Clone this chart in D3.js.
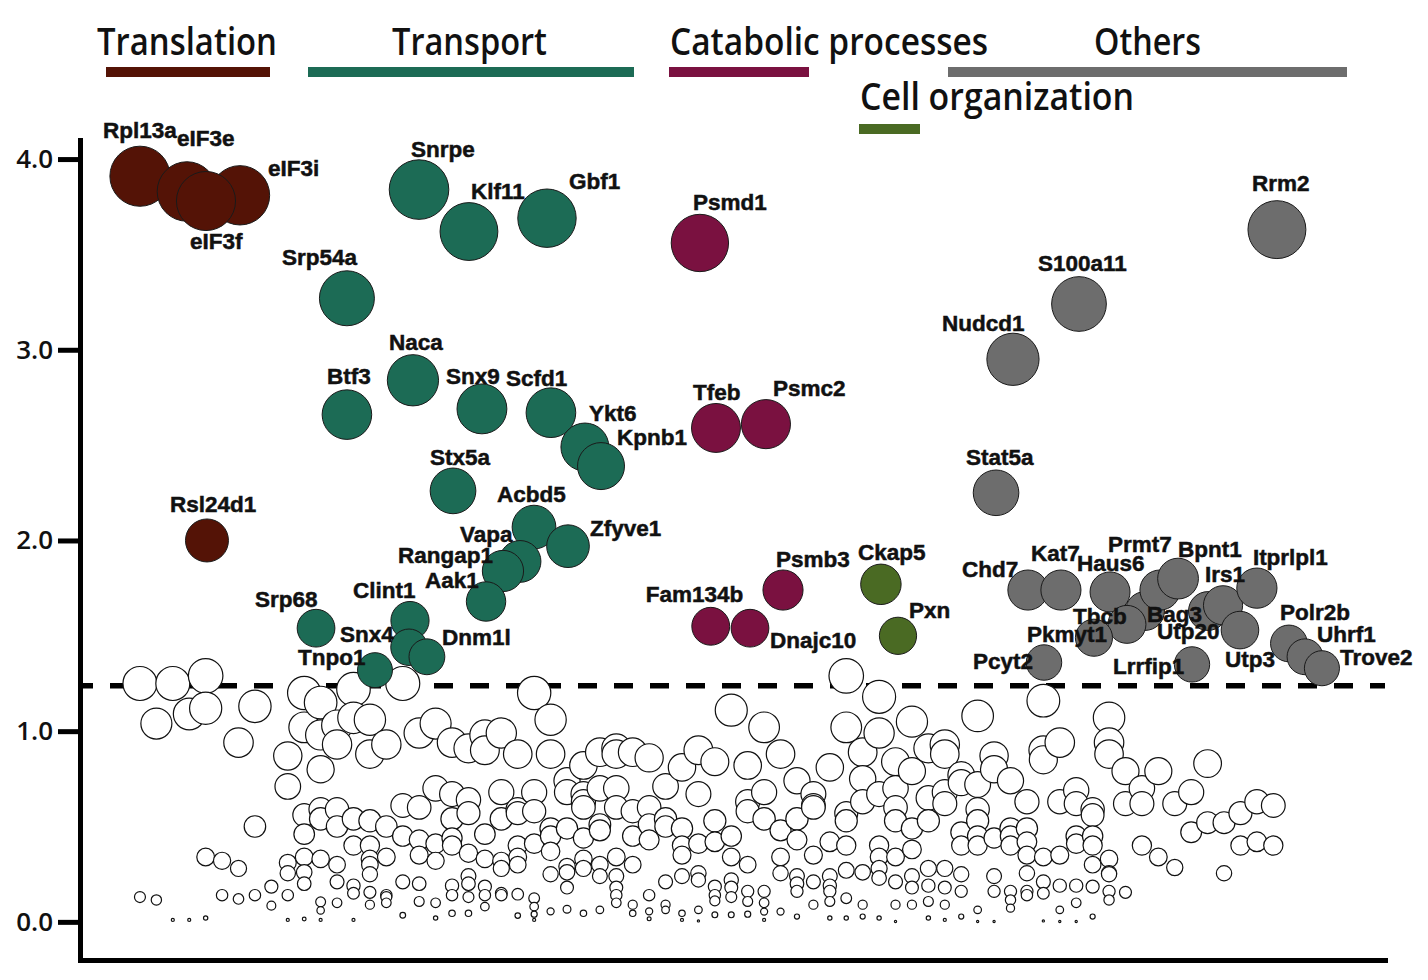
<!DOCTYPE html>
<html>
<head>
<meta charset="utf-8">
<script src="https://cdn.jsdelivr.net/npm/d3@7"></script>
<style>
  body { margin: 0; background: #fff; }
  svg { display: block; }
</style>
</head>
<body>
<div id="chart"></div>
<script>
// ---- data ----
var categories = ["Translation", "Transport", "Catabolic processes", "Cell organization", "Others"];
var categoryColors = ["#541306", "#1c6b55", "#7a1140", "#4a6a23", "#6d6d6d"];

// highlighted genes (drawing order), category index, x position (rank), y value
var genes = ["Rpl13a", "eIF3i", "eIF3e", "eIF3f", "Rsl24d1",
  "Snrpe", "Klf11", "Gbf1", "Srp54a", "Naca", "Btf3", "Snx9", "Scfd1", "Ykt6", "Kpnb1",
  "Stx5a", "Acbd5", "Zfyve1", "Vapa", "Rangap1", "Aak1", "Srp68", "Clint1", "Snx4", "Dnm1l", "Tnpo1",
  "Psmd1", "Tfeb", "Psmc2", "Psmb3", "Fam134b", "Dnajc10",
  "Ckap5", "Pxn",
  "Rrm2", "S100a11", "Nudcd1", "Stat5a", "Chd7", "Kat7", "Haus6", "Bag3", "Prmt7", "Bpnt1",
  "Tbcb", "Pkmyt1", "Utp20", "Irs1", "Itprlpl1", "Utp3", "Pcyt2", "Lrrfip1", "Polr2b", "Uhrf1", "Trove2"];
var geneCategory = [0, 0, 0, 0, 0,
  1, 1, 1, 1, 1, 1, 1, 1, 1, 1,
  1, 1, 1, 1, 1, 1, 1, 1, 1, 1, 1,
  2, 2, 2, 2, 2, 2,
  3, 3,
  4, 4, 4, 4, 4, 4, 4, 4, 4, 4,
  4, 4, 4, 4, 4, 4, 4, 4, 4, 4, 4];
var geneX = [0.0, 6.09, 2.86, 4.02, 4.08,
  16.99, 20.03, 24.78, 12.6, 16.62, 12.6, 20.82, 25.02, 27.09, 28.07,
  19.06, 23.99, 26.06, 23.14, 22.1, 21.07, 10.72, 16.44, 16.38, 17.47, 14.31,
  34.09, 35.07, 38.11, 39.15, 34.75, 37.14,
  45.11, 46.15,
  69.22, 57.17, 53.15, 52.12, 54.06, 56.07, 59.06, 61.19, 62.1, 63.2,
  60.09, 58.08, 65.02, 65.94, 68.0, 66.97, 55.04, 64.05, 69.95, 70.93, 71.96];
var geneY = [3.91, 3.81, 3.83, 3.78, 2.0,
  3.84, 3.62, 3.69, 3.27, 2.84, 2.66, 2.69, 2.67, 2.49, 2.39,
  2.26, 2.07, 1.97, 1.89, 1.84, 1.68, 1.54, 1.58, 1.44, 1.39, 1.32,
  3.56, 2.59, 2.61, 1.74, 1.55, 1.54,
  1.77, 1.50,
  3.63, 3.24, 2.95, 2.25, 1.74, 1.74, 1.73, 1.63, 1.74, 1.80,
  1.56, 1.49, 1.63, 1.66, 1.75, 1.53, 1.36, 1.35, 1.46, 1.39, 1.33];

// non-significant genes: values per rank column (index = column)
var bgValues = [
  [1.25, 0.13], [1.04, 0.115], [1.25, 0.01], [1.09, 0.01], [1.29, 1.12, 0.34, 0.02],
  [0.32, 0.14], [0.94, 0.28, 0.12], [1.13, 0.5, 0.14], [0.185, 0.085],
  [0.87, 0.71, 0.31, 0.255, 0.14, 0.01],
  [1.2, 1.02, 0.56, 0.46, 0.34, 0.26, 0.2, 0.015],
  [1.15, 0.98, 0.8, 0.59, 0.54, 0.33, 0.105, 0.06, 0.01],
  [1.03, 0.93, 0.59, 0.5, 0.3, 0.21, 0.1],
  [1.22, 1.07, 0.54, 0.4, 0.19, 0.15, 0.01],
  [1.06, 0.88, 0.53, 0.4, 0.33, 0.3, 0.25, 0.155, 0.09],
  [0.93, 0.5, 0.34, 0.14, 0.13, 0.1],
  [1.25, 0.61, 0.45, 0.21, 0.035],
  [0.99, 0.6, 0.43, 0.35, 0.2, 0.107],
  [1.04, 0.7, 0.41, 0.32, 0.1, 0.02],
  [0.94, 0.67, 0.54, 0.44, 0.4, 0.19, 0.14, 0.045],
  [0.91, 0.64, 0.57, 0.36, 0.24, 0.2, 0.13, 0.045],
  [0.98, 0.9, 0.46, 0.33, 0.185, 0.14, 0.08],
  [0.99, 0.68, 0.54, 0.32, 0.28, 0.15, 0.14],
  [0.88, 0.59, 0.57, 0.4, 0.34, 0.3, 0.145, 0.033],
  [1.2, 0.68, 0.58, 0.41, 0.124, 0.08, 0.04, 0.01],
  [1.06, 0.88, 0.49, 0.45, 0.37, 0.25, 0.055],
  [0.74, 0.68, 0.49, 0.29, 0.26, 0.18, 0.066],
  [0.82, 0.67, 0.63, 0.6, 0.44, 0.33, 0.28, 0.045],
  [0.89, 0.7, 0.51, 0.48, 0.3, 0.24, 0.063],
  [0.91, 0.88, 0.7, 0.6, 0.34, 0.24, 0.18, 0.14, 0.1],
  [0.89, 0.58, 0.45, 0.3, 0.09, 0.045],
  [0.86, 0.6, 0.51, 0.43, 0.14, 0.055, 0.016],
  [0.71, 0.54, 0.5, 0.21, 0.09, 0.063],
  [0.81, 0.49, 0.4, 0.35, 0.24, 0.045, 0.01],
  [0.9, 0.67, 0.41, 0.255, 0.22, 0.063, 0.005],
  [0.84, 0.53, 0.42, 0.185, 0.14, 0.11, 0.037],
  [1.11, 0.45, 0.34, 0.22, 0.18, 0.13, 0.037],
  [0.82, 0.63, 0.58, 0.3, 0.16, 0.107, 0.04],
  [1.02, 0.68, 0.54, 0.16, 0.1, 0.054, 0.01],
  [0.88, 0.48, 0.34, 0.255, 0.054],
  [0.74, 0.54, 0.43, 0.24, 0.2, 0.16, 0.028],
  [0.67, 0.61, 0.6, 0.35, 0.21, 0.09],
  [0.81, 0.42, 0.24, 0.19, 0.16, 0.107, 0.02],
  [1.29, 1.02, 0.57, 0.53, 0.4, 0.27, 0.124, 0.02],
  [0.89, 0.75, 0.63, 0.26, 0.09, 0.028],
  [1.18, 0.99, 0.67, 0.4, 0.34, 0.28, 0.23, 0.02],
  [0.84, 0.7, 0.6, 0.53, 0.34, 0.21, 0.09, 0.002],
  [1.05, 0.79, 0.49, 0.38, 0.24, 0.18, 0.09],
  [0.91, 0.65, 0.53, 0.28, 0.19, 0.107, 0.02],
  [0.93, 0.88, 0.68, 0.62, 0.28, 0.18, 0.09, 0.01],
  [0.77, 0.73, 0.47, 0.4, 0.25, 0.16, 0.028],
  [1.08, 0.72, 0.59, 0.53, 0.45, 0.4, 0.063, 0.002],
  [0.87, 0.8, 0.44, 0.24, 0.16, 0.002],
  [0.74, 0.49, 0.45, 0.4, 0.16, 0.115, 0.072],
  [0.63, 0.49, 0.42, 0.35, 0.255, 0.16, 0.14],
  [1.16, 0.9, 0.85, 0.34, 0.21, 0.15, 0.005],
  [0.94, 0.63, 0.35, 0.19, 0.063, 0.002],
  [0.69, 0.62, 0.45, 0.41, 0.19, 0.1, 0.002],
  [0.59, 0.56, 0.45, 0.4, 0.3, 0.185, 0.028],
  [1.07, 0.94, 0.88, 0.33, 0.255, 0.25, 0.16, 0.115],
  [0.79, 0.62, 0.155],
  [0.7, 0.62, 0.4],
  [0.79, 0.34],
  [0.62, 0.285],
  [0.68, 0.47],
  [0.83, 0.52],
  [0.52, 0.255],
  [0.57, 0.4],
  [0.63, 0.42],
  [0.61, 0.4]
];

var threshold = 1.238;
var yTicks = [0, 1, 2, 3, 4];

// ---- layout ----
var width = 1428, height = 980;

// label offsets from circle centre (px), text starts at that point
var labelOffset = {
  Rpl13a: [-37, -38], eIF3e: [-10, -45], eIF3i: [28, -19], eIF3f: [-16, 48], Rsl24d1: [-37, -28],
  Snrpe: [-8, -33], Klf11: [2, -33], Gbf1: [22, -29], Srp54a: [-65, -33], Naca: [-24, -30],
  Btf3: [-20, -31], Snx9: [-36, -25], Scfd1: [-45, -27], Ykt6: [4, -26], Kpnb1: [16, -21],
  Stx5a: [-23, -26], Acbd5: [-37, -25], Zfyve1: [22, -10], Vapa: [-60, -19], Rangap1: [-105, -8],
  Aak1: [-61, -13], Srp68: [-61, -21], Clint1: [-57, -23], Snx4: [-69, -5], Dnm1l: [15, -12],
  Tnpo1: [-77, -5],
  Psmd1: [-7, -33], Tfeb: [-23, -28], Psmc2: [7, -28], Psmb3: [-7, -23], Fam134b: [-65, -24],
  Dnajc10: [20, 20],
  Ckap5: [-23, -24], Pxn: [11, -18],
  Rrm2: [-25, -39], S100a11: [-41, -33], Nudcd1: [-71, -28], Stat5a: [-30, -28], Chd7: [-66, -13],
  Kat7: [-30, -29], Haus6: [-33, -21], Prmt7: [-52, -38], Bpnt1: [0, -22], Irs1: [-18, -23],
  Itprlpl1: [-4, -23], Tbcb: [-54, 0], Bag3: [2, 11], Pkmyt1: [-67, 4], Utp20: [-51, 28],
  Pcyt2: [-71, 6], Lrrfip1: [-79, 10], Utp3: [-15, 37], Polr2b: [-9, -23], Uhrf1: [12, -15],
  Trove2: [18, -3]
};

// legend: title left / width / baseline, bar from-to / top
var legendLayout = [
  { tx: 97, tw: 180, ty: 55, bx0: 106, bx1: 270, by: 67 },
  { tx: 392, tw: 155, ty: 55, bx0: 308, bx1: 634, by: 67 },
  { tx: 670, tw: 318, ty: 55, bx0: 669, bx1: 809, by: 67 },
  { tx: 860, tw: 274, ty: 110, bx0: 859, bx1: 920, by: 124 },
  { tx: 1094, tw: 107, ty: 55, bx0: 948, bx1: 1347, by: 67 }
];

var svg = d3.select("#chart")
  .append("svg")
  .attr("width", width)
  .attr("height", height);

var x = d3.scaleLinear().domain([-3.65, 75.8]).range([80, 1385]);
var y = d3.scaleLinear().domain([-0.2, 4.1]).range([960, 140]);
var r = d3.scaleSqrt().domain([0, 4]).range([0, 30.4]);

// threshold line
svg.append("line")
  .attr("x1", x(-3.65))
  .attr("x2", x(75.8))
  .attr("y1", y(threshold))
  .attr("y2", y(threshold))
  .attr("stroke", "#000")
  .attr("stroke-width", 5.5)
  .attr("stroke-dasharray", "19,17")
  .attr("stroke-dashoffset", 6);

// background circles
var bg = [];
bgValues.forEach(function(col, i) {
  col.forEach(function(v) { bg.push({ x: i, y: v }); });
});

svg.append("g")
  .selectAll("circle")
  .data(bg)
  .enter()
  .append("circle")
    .attr("cx", d => x(d.x))
    .attr("cy", d => y(d.y))
    .attr("r", d => Math.max(r(d.y), 1.1))
    .attr("fill", "#fff")
    .attr("stroke", "#111")
    .attr("stroke-width", 1.2);

// highlighted genes
var hits = genes.map(function(g, i) {
  return { name: g, x: geneX[i], y: geneY[i], cat: geneCategory[i] };
});

svg.append("g")
  .selectAll("circle")
  .data(hits)
  .enter()
  .append("circle")
    .attr("cx", d => x(d.x))
    .attr("cy", d => y(d.y))
    .attr("r", d => r(d.y))
    .attr("fill", d => categoryColors[d.cat])
    .attr("stroke", "#1a1a1a")
    .attr("stroke-width", 1);

svg.append("g")
  .selectAll("text")
  .data(hits)
  .enter()
  .append("text")
    .attr("x", d => x(d.x) + labelOffset[d.name][0])
    .attr("y", d => y(d.y) + labelOffset[d.name][1])
    .attr("font-family", "'Liberation Sans', Arial, sans-serif")
    .attr("font-weight", "bold")
    .attr("font-size", 22.5)
    .attr("fill", "#111")
    .attr("stroke", "#111")
    .attr("stroke-width", 0.5)
    .text(d => d.name);

// axes
var yAxis = d3.axisLeft(y)
  .tickValues(yTicks)
  .tickFormat(d3.format(".1f"))
  .tickSize(22)
  .tickSizeOuter(0)
  .tickPadding(5);

var gy = svg.append("g")
  .attr("transform", "translate(80,0)")
  .call(yAxis);
gy.select(".domain").attr("stroke", "#000").attr("stroke-width", 5).attr("stroke-linecap", "square");
gy.selectAll(".tick line").attr("stroke", "#000").attr("stroke-width", 5);
gy.selectAll(".tick text")
  .attr("font-family", "'Open Sans', 'Noto Sans', sans-serif")
  .attr("font-weight", 600)
  .attr("font-size", 26)
  .attr("fill", "#111");

var xAxis = d3.axisBottom(x).tickValues([]).tickSizeOuter(0);
var gx = svg.append("g")
  .attr("transform", "translate(0,960)")
  .call(xAxis);
gx.select(".domain").attr("stroke", "#000").attr("stroke-width", 5).attr("stroke-linecap", "square");

// legend
var legend = svg.append("g");
categories.forEach(function(c, i) {
  var L = legendLayout[i];
  legend.append("text")
    .attr("x", L.tx)
    .attr("y", L.ty)
    .attr("textLength", L.tw)
    .attr("lengthAdjust", "spacingAndGlyphs")
    .attr("font-family", "'Open Sans', 'Noto Sans', sans-serif")
    .attr("font-weight", 600)
    .attr("font-size", 38)
    .attr("fill", "#111")
    .text(c);
  legend.append("rect")
    .attr("x", L.bx0)
    .attr("y", L.by)
    .attr("width", L.bx1 - L.bx0)
    .attr("height", 10)
    .attr("fill", categoryColors[i]);
});
</script>
</body>
</html>
